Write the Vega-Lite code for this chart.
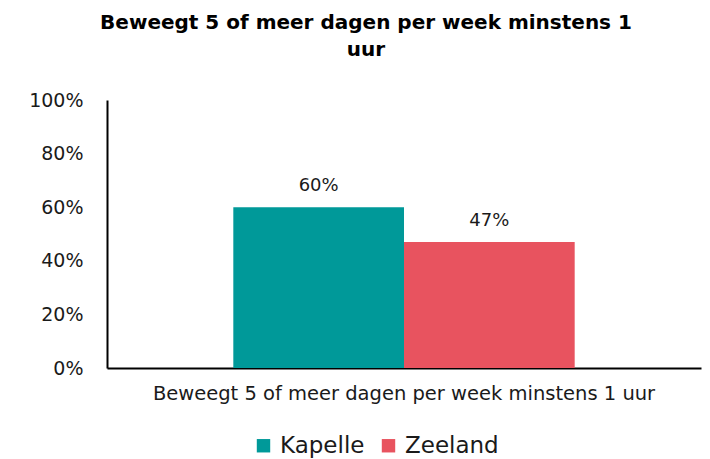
{
  "$schema": "https://vega.github.io/schema/vega-lite/v6.json",
  "autosize": {"type": "none"},
  "width": 594,
  "height": 268,
  "padding": {"left": 107, "top": 100, "right": 9, "bottom": 91},
  "background": "white",
  "config": {
    "font": "DejaVu Sans",
    "view": {"stroke": null}
  },
  "title": {
    "text": ["Beweegt 5 of meer dagen per week minstens 1", "uur"],
    "fontSize": 20,
    "fontWeight": "bold",
    "color": "#000000",
    "anchor": "middle",
    "dx": -38,
    "offset": 31,
    "lineHeight": 27
  },
  "data": {
    "values": [
      {"categorie": "Beweegt 5 of meer dagen per week minstens 1 uur", "gebied": "Kapelle", "waarde": 0.60},
      {"categorie": "Beweegt 5 of meer dagen per week minstens 1 uur", "gebied": "Zeeland", "waarde": 0.47}
    ]
  },
  "encoding": {
    "x": {
      "field": "categorie",
      "type": "nominal",
      "scale": {"paddingInner": 0, "paddingOuter": 0.37},
      "axis": {
        "title": null,
        "labelAngle": 0,
        "labelFontSize": 19.5,
        "labelColor": "#1a1a1a",
        "labelPadding": 16,
        "ticks": false,
        "domainColor": "#000000",
        "domainWidth": 2,
        "labelLimit": 700
      }
    },
    "xOffset": {"field": "gebied", "type": "nominal", "scale": {"paddingInner": 0, "paddingOuter": 0}},
    "y": {
      "field": "waarde",
      "type": "quantitative",
      "scale": {"domain": [0, 1]},
      "axis": {
        "title": null,
        "format": ".0%",
        "values": [0, 0.2, 0.4, 0.6, 0.8, 1],
        "grid": false,
        "ticks": false,
        "labelFontSize": 19,
        "labelColor": "#1a1a1a",
        "labelPadding": 24,
        "domainColor": "#000000",
        "domainWidth": 2
      }
    }
  },
  "layer": [
    {
      "mark": {"type": "bar"},
      "encoding": {
        "color": {
          "field": "gebied",
          "type": "nominal",
          "scale": {"domain": ["Kapelle", "Zeeland"], "range": ["#009999", "#E8535F"]},
          "legend": {
            "title": null,
            "orient": "none",
            "legendX": 145,
            "legendY": 334,
            "direction": "horizontal",
            "symbolType": "square",
            "symbolSize": 180,
            "symbolStrokeWidth": 0,
            "labelFontSize": 23,
            "labelColor": "#1a1a1a",
            "labelOffset": 5,
            "columnPadding": 12
          }
        }
      }
    },
    {
      "mark": {"type": "text", "baseline": "bottom", "dy": -12, "fontSize": 18, "color": "#1a1a1a"},
      "encoding": {
        "text": {"field": "waarde", "type": "quantitative", "format": ".0%"}
      }
    }
  ]
}
